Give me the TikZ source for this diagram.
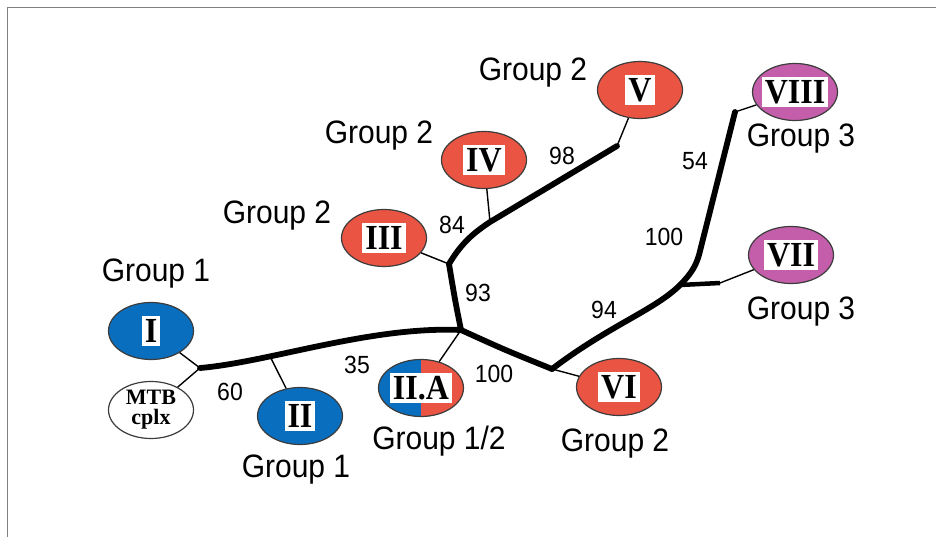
\documentclass[tikz,border=0pt]{standalone}
\usepackage{fontspec}
\setmainfont{Liberation Serif}
\newfontfamily\grpfont{Liberation Sans}
\usetikzlibrary{shapes.geometric}

\definecolor{gblue}{RGB}{10,110,190}
\definecolor{gred}{RGB}{234,84,66}
\definecolor{gpink}{RGB}{196,94,170}
\definecolor{rimgray}{RGB}{60,60,60}
\definecolor{framegray}{RGB}{128,128,128}

% slightly tall lettering
\newcommand\tallnum[1]{\scalebox{1}[1.1]{#1}}
\newcommand\tallgrp[1]{\scalebox{1}[1.08]{#1}}

\tikzset{
  clade/.style={ellipse, draw=rimgray, line width=1.2pt, minimum width=85pt, minimum height=57pt, inner sep=0pt},
  numeral/.style={fill=white, inner xsep=3pt, inner ysep=3.5pt, text height=23.3pt, text depth=0pt,
    font=\bfseries\fontsize{32}{32}\selectfont},
  grp/.style={font=\grpfont\fontsize{30}{30}\selectfont, inner sep=0pt},
  boot/.style={font=\grpfont\fontsize{23}{23}\selectfont, inner sep=0pt},
  trunk/.style={line width=5.8pt, line cap=round, line join=round},
  twig/.style={line width=1.4pt},
}

\begin{document}
\begin{tikzpicture}[x=1pt, y=-1pt]
\useasboundingbox (0,0) rectangle (936,537);
\draw[framegray, line width=1.5pt] (7.5,537) -- (7.5,7.5) -- (936,7.5);

% clade ellipses
\node[clade, fill=gblue] (nI) at (151,331) {};
\node[clade, fill=white] (nMTB) at (151,410) {};
\node[clade, fill=gblue] (nII) at (300,416) {};
\node[clade, fill=gred, path picture={\fill[gblue] (path picture bounding box.south west) rectangle (path picture bounding box.north);}] (nIIA) at (421,388) {};
\node[clade, fill=gred] (nVI) at (619,387) {};
\node[clade, fill=gred] (nIII) at (384,238) {};
\node[clade, fill=gred] (nIV) at (484,160) {};
\node[clade, fill=gred] (nV) at (640,90) {};
\node[clade, fill=gpink] (nVIII) at (795,92) {};
\node[clade, fill=gpink] (nVII) at (791,255) {};

% numerals
\node[numeral] (tI) at (nI) {\tallnum{I}};
\node[inner sep=0pt, align=center, font=\bfseries\fontsize{22}{20}\selectfont] (tMTB) at (nMTB) {MTB\\cplx};
\node[numeral] (tII) at (nII) {\tallnum{II}};
\node[numeral] (tIIA) at (nIIA) {\tallnum{II.A}};
\node[numeral] (tVI) at (nVI) {\tallnum{VI}};
\node[numeral] (tIII) at (nIII) {\tallnum{III}};
\node[numeral] (tIV) at (nIV) {\tallnum{IV}};
\node[numeral] (tV) at (nV) {\tallnum{V}};
\node[numeral] (tVIII) at (nVIII) {\tallnum{VIII}};
\node[numeral] (tVII) at (nVII) {\tallnum{VII}};

% branch points
\coordinate (jA) at (200,368);
\coordinate (jC) at (461,330);
\coordinate (jD) at (449,264);
\coordinate (jF) at (617,146);
\coordinate (jG) at (552,369);
\coordinate (jH) at (680,285);
\coordinate (jK) at (720,283);
\coordinate (jL) at (735,112);

% thick tree
\draw[trunk] (jA) .. controls (270,362) and (370,326) .. coordinate[pos=0.3] (jB) (jC);
\draw[trunk] (jC) .. controls (455,300) .. (jD);
\draw[trunk] (jD) .. controls (462,242) and (475,232) .. coordinate[pos=1] (jE) (490,222) -- (jF);
\draw[trunk] (jC) .. controls (505,350) .. (jG);
\draw[trunk] (jG) .. controls (610,325) and (655,310) .. (jH) .. controls (692,273) and (696,265) .. (699,255) -- (jL);
\draw[line width=4.5pt] (jH) -- (jK);

% thin twigs to the clades
\draw[twig] (jA) -- (nI);
\draw[twig] (jA) -- (nMTB);
\draw[twig] (jB) -- (nII);
\draw[twig] (jC) -- (nIIA);
\draw[twig] (jG) -- (nVI);
\draw[twig] (jD) -- (nIII);
\draw[twig] (jE) -- (nIV);
\draw[twig] (jF) -- (nV);
\draw[twig] (jK) -- (nVII);
\draw[twig] (jL) -- (nVIII);

% group labels
\node[grp] (gI) at (156,274) {\tallgrp{Group 1}};
\node[grp] (gII) at (296,470) {\tallgrp{Group 1}};
\node[grp] (gIIA) at (439,441) {\tallgrp{Group 1/2}};
\node[grp] (gVI) at (615,444) {\tallgrp{Group 2}};
\node[grp] (gIII) at (277,216) {\tallgrp{Group 2}};
\node[grp] (gIV) at (379,136) {\tallgrp{Group 2}};
\node[grp] (gV) at (533,73) {\tallgrp{Group 2}};
\node[grp] (gVIII) at (801,139) {\tallgrp{Group 3}};
\node[grp] (gVII) at (801,312) {\tallgrp{Group 3}};

% bootstrap values
\node[boot] (b60) at (230,392) {\tallgrp{60}};
\node[boot] (b35) at (357,365) {\tallgrp{35}};
\node[boot] (b100a) at (494,374) {\tallgrp{100}};
\node[boot] (b93) at (478,293) {\tallgrp{93}};
\node[boot] (b84) at (452,225) {\tallgrp{84}};
\node[boot] (b98) at (562,156) {\tallgrp{98}};
\node[boot] (b54) at (695,161) {\tallgrp{54}};
\node[boot] (b100b) at (664,237) {\tallgrp{100}};
\node[boot] (b94) at (604,310) {\tallgrp{94}};
\end{tikzpicture}
\end{document}
